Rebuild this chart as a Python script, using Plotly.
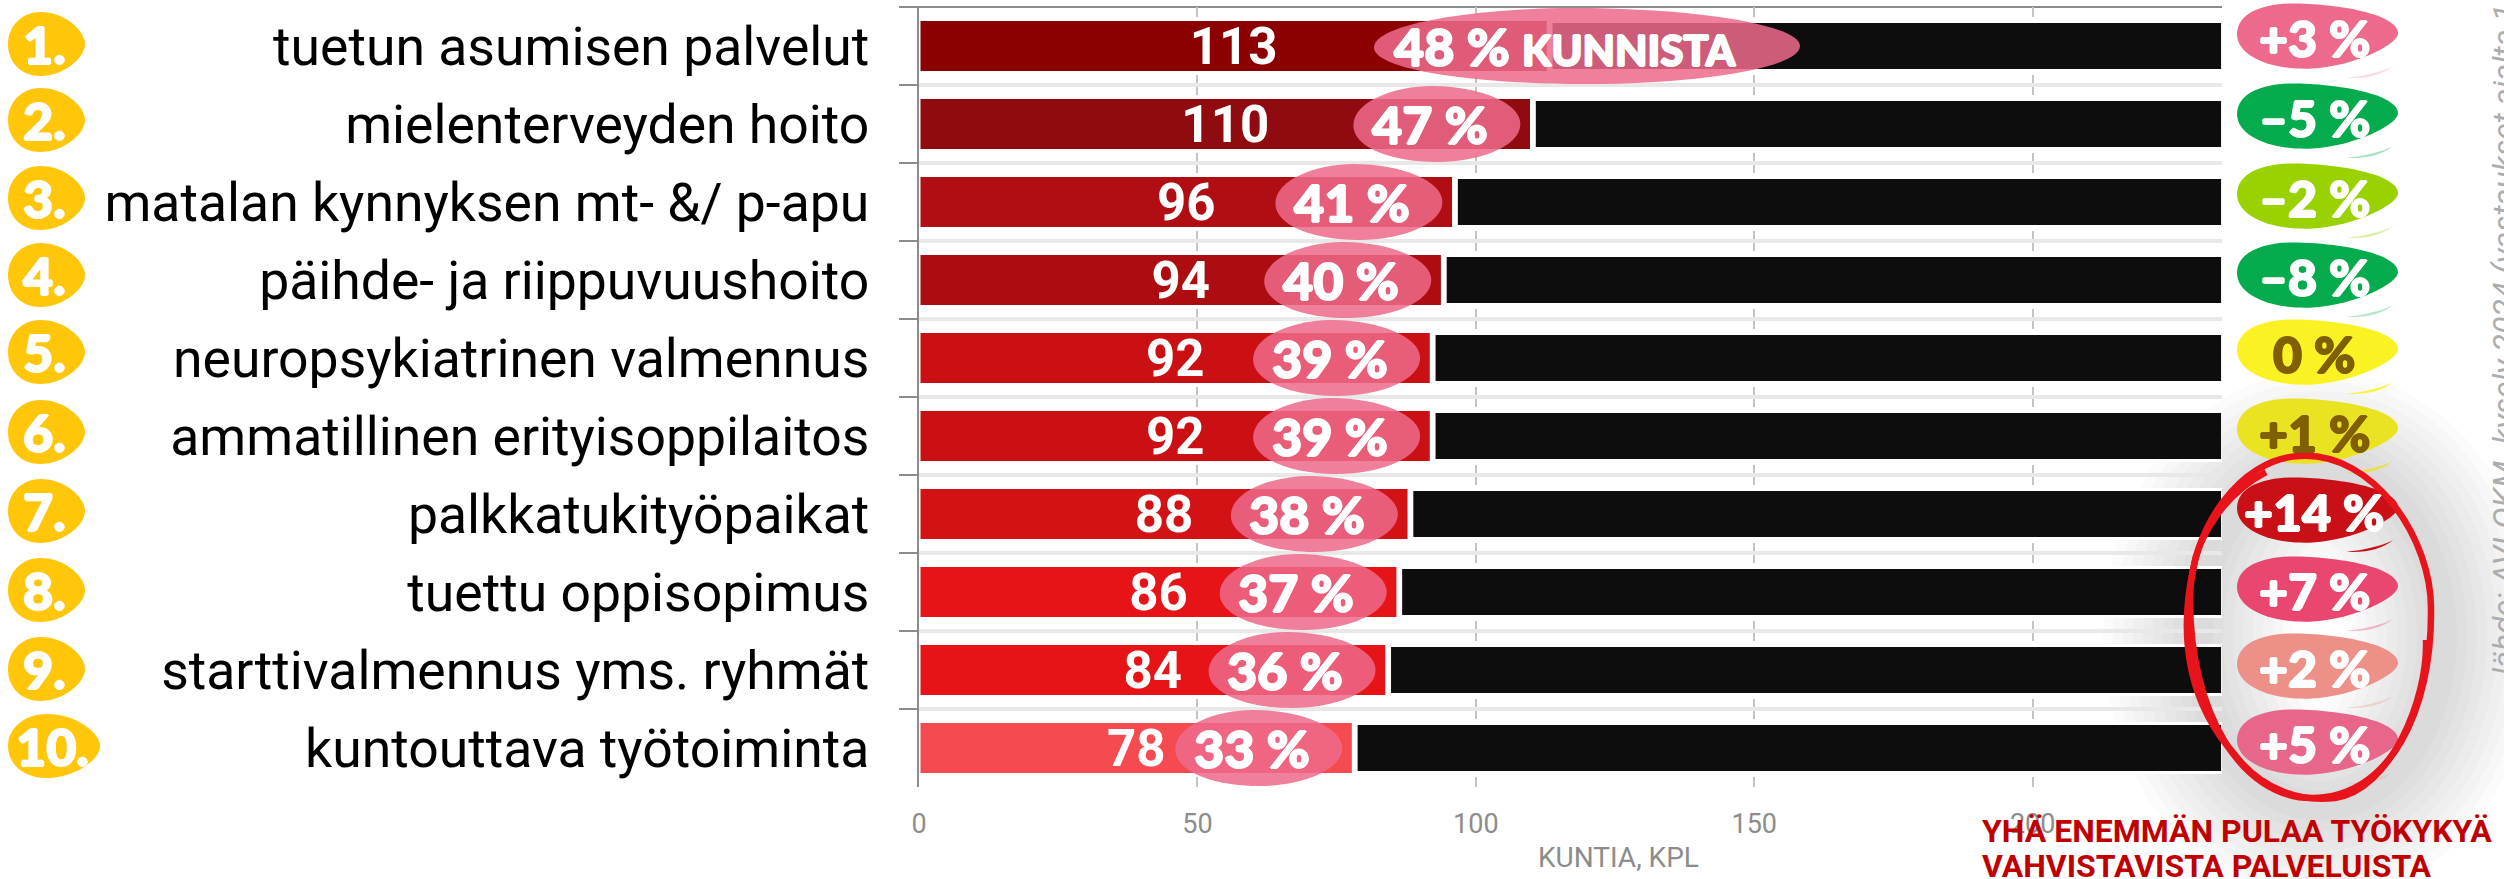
import plotly.graph_objects as go

categories = ["tuetun asumisen palvelut", "mielenterveyden hoito", "matalan kynnyksen mt- &/ p-apu",
              "päihde- ja riippuvuushoito", "neuropsykiatrinen valmennus", "ammatillinen erityisoppilaitos",
              "palkkatukityöpaikat", "tuettu oppisopimus", "starttivalmennus yms. ryhmät", "kuntouttava työtoiminta"]
ranks = ["1.", "2.", "3.", "4.", "5.", "6.", "7.", "8.", "9.", "10."]
municipalities = [113, 110, 96, 94, 92, 92, 88, 86, 84, 78]
total_municipalities = 233.6
shares = ["48 %", "47 %", "41 %", "40 %", "39 %", "39 %", "38 %", "37 %", "36 %", "33 %"]
changes = ["+3 %", "–5 %", "–2 %", "–8 %", "0 %", "+1 %", "+14 %", "+7 %", "+2 %", "+5 %"]
x_ticks = [0, 50, 100, 150, 200]

bar_colors = ["#8B0000", "#8F0B0F", "#B00E12", "#AD0D11", "#CB1014", "#CB1014", "#D21215", "#E61317", "#E61317", "#F54A4F"]
change_colors = ["#EE6A8C", "#05AB4D", "#99D200", "#05AB4D", "#FBF224", "#E9E321", "#C81016", "#E94670", "#EC9088", "#E7668A"]
change_text = ["white"] * 4 + ["#7F5F00", "#7F5F00"] + ["white"] * 4
rest = [total_municipalities - v for v in municipalities]
gap = 0.5

W, H = 2504, 879
L, R, T, B = 919, 2222, 7, 787
PW, PH = R - L, B - T
def px(v): return (v - L) / PW
def py(v): return (B - v) / PH
FONT = "Roboto"
ROUND = "Lato"
def heavy(size, color):
    s = f"1px 0 0 {color},-1px 0 0 {color},0 1px 0 {color},0 -1px 0 {color}"
    return dict(family=ROUND, size=size, color=color, weight=900, shadow=s)

fig = go.Figure()
fig.add_bar(y=categories, x=municipalities, orientation="h", width=0.68,
            marker=dict(color=bar_colors, line=dict(color="white", width=3)),
            text=[str(v) for v in municipalities], textposition="inside", insidetextanchor="middle",
            constraintext="none", textangle=0,
            textfont=dict(family=FONT, size=51, color="white", weight=700), showlegend=False)
fig.add_bar(y=categories, x=rest, base=[v + gap for v in municipalities], orientation="h", width=0.63,
            marker=dict(color="#0D0D0D", line=dict(color="white", width=3)), showlegend=False)

def bez(pts, w, h, ox=0.0, oy=0.0):
    """Normalised blob (y down, 0..1) to an SVG path in pixels around the anchor."""
    def f(p):
        return f"{(p[0] - ox) * w:.1f},{-(p[1] - oy) * h:.1f}"
    s = "M " + f(pts[0])
    for i in range(1, len(pts), 3):
        s += " C " + " ".join(f(p) for p in pts[i:i + 3])
    return s + " Z"

EGG = [(0, .5), (0, .2), (.2, 0), (.42, 0), (.75, 0), (1, .3), (1, .5), (1, .72), (.72, 1), (.42, 1), (.18, 1), (0, .8), (0, .5)]
PINK = [(0, .52), (0, .2), (.25, 0), (.47, 0), (.75, 0), (1, .22), (1, .5), (1, .8), (.75, 1), (.5, 1), (.22, 1), (0, .8), (0, .52)]
DROP = [(0, .47), (0, .13), (.18, 0), (.34, 0), (.62, 0), (1, .16), (1, .46), (1, .62), (.75, .95), (.47, 1), (.2, 1.03), (0, .8), (0, .47)]
SLIVER = [(.68, 1.02), (.78, 1.0), (.9, .93), (.97, .84), (.9, .98), (.8, 1.04), (.68, 1.02)]

shapes = []
# soft drop shadow of the hand-drawn ring
for w_ in (190, 170, 150, 130, 110, 90, 70, 50, 30):
    shapes.append(dict(type="circle", xref="paper", yref="paper", layer="below",
                       x0=px(2198), x1=px(2442), y0=py(466), y1=py(806),
                       line=dict(color="rgba(0,0,0,0.016)", width=w_), fillcolor="rgba(0,0,0,0)"))

annos = []
rank_nudge = [-2, -4, -4, -5, -6, -4, -3, -2, -1, -2]
change_center = [36, 116, 196, 275, 352, 431, 510, 589, 666, 742]
sliver_strength = [.25, .35, .35, .3, .9, .9, 1, .35, .3, .15]
def label(**kw):
    kw.setdefault("xanchor", "center")
    kw.setdefault("yanchor", "middle")
    kw.setdefault("showarrow", False)
    annos.append(kw)

for i in range(10):
    # rank badge
    w_ = 92 if i == 9 else 77
    yc = 46 + 78 * i + rank_nudge[i]
    shapes.append(dict(type="path", xref="paper", yref="paper", xsizemode="pixel", ysizemode="pixel",
                       xanchor=px(8), yanchor=py(yc), layer="above",
                       path=bez(EGG, w_, 64, 0, .5), fillcolor="#FFC60A", line=dict(width=0)))
    label(xref="paper", yref="paper", x=px(8 + w_ * .48), y=py(yc), text=ranks[i], font=heavy(52, "white"))
    # share blob
    w_ = 426 if i == 0 else 167
    xa = ((1587 - L) / PW * 234) if i == 0 else municipalities[i] - 17
    shapes.append(dict(type="path", xref="x", yref="y", xsizemode="pixel", ysizemode="pixel",
                       xanchor=xa, yanchor=i, layer="above",
                       path=bez(PINK, w_, 76, .5, .5), fillcolor="rgba(238,106,139,0.86)", line=dict(width=0)))
    if i == 0:
        label(xref="paper", yref="y", x=px(1392), y=0, xanchor="left",
              text=f"{shares[0]} <span style='font-size:42px'>KUNNISTA</span>", font=heavy(52, "white"))
    else:
        label(xref="x", yref="y", x=xa, xshift=-7, y=i, text=shares[i], font=heavy(52, "white"))
    # change badge
    yc = change_center[i]
    shapes.append(dict(type="path", xref="paper", yref="paper", xsizemode="pixel", ysizemode="pixel",
                       xanchor=px(2237), yanchor=py(yc), layer="above",
                       path=bez(DROP, 161, 65, 0, .5), fillcolor=change_colors[i], line=dict(width=0)))
    shapes.append(dict(type="path", xref="paper", yref="paper", xsizemode="pixel", ysizemode="pixel",
                       xanchor=px(2237), yanchor=py(yc + 8), layer="above", opacity=sliver_strength[i],
                       path=bez(SLIVER, 161, 65, 0, .5), fillcolor=change_colors[i], line=dict(width=0)))
    label(xref="paper", yref="paper", x=px(2314), y=py(yc + 2), text=changes[i], font=heavy(50, change_text[i]))

# hand-drawn red ring
RING_A = "M 2300,456 C 2375,452 2432,540 2431,610 C 2432,710 2390,798 2312,798 C 2240,798 2190,710 2190,600 C 2190,530 2240,458 2300,456"
RING_B = "M 2266,472 C 2222,495 2197,540 2193,570 C 2178,640 2190,705 2235,755 C 2262,790 2300,802 2335,798 C 2390,790 2428,700 2426,640"
def to_paper_path(p):
    out = []
    for tok in p.split():
        if "," in tok:
            a, b = tok.split(",")
            out.append(f"{px(float(a)):.5f},{py(float(b)):.5f}")
        else:
            out.append(tok)
    return " ".join(out)
for p in (RING_A, RING_B):
    shapes.append(dict(type="path", xref="paper", yref="paper", layer="above", path=to_paper_path(p),
                       line=dict(color="#E8141B", width=6.5), fillcolor="rgba(0,0,0,0)"))

# top rule
shapes.append(dict(type="line", xref="paper", yref="paper", x0=-0.014, x1=1, y0=1, y1=1, layer="between",
                   line=dict(color="#8C8C8C", width=2)))

label(xref="paper", yref="paper", x=px(1618), y=py(858), text="KUNTIA, KPL",
      font=dict(family=FONT, size=28, color="#8C8C8C"))
label(xref="paper", yref="paper", x=px(1980), y=py(831), xanchor="left", text="<b>YHÄ ENEMMÄN PULAA TYÖKYKYÄ</b>",
      font=dict(family=FONT, size=32, color="#C00000"))
label(xref="paper", yref="paper", x=px(1980), y=py(866), xanchor="left", text="<b>VAHVISTAVISTA PALVELUISTA</b>",
      font=dict(family=FONT, size=32, color="#C00000"))
label(xref="paper", yref="paper", x=px(2503), y=py(678), yanchor="bottom", textangle=-90,
      text="<i>lähde: AVI-OKM -kysely 2024 (vastaukset ajalta 1</i>",
      font=dict(family=FONT, size=32, color="#ADADAD", weight=400))

fig.update_layout(
    width=W, height=H, autosize=False, barmode="overlay", plot_bgcolor="white", paper_bgcolor="white",
    margin=dict(l=L, r=W - R, t=T, b=H - B, pad=0), showlegend=False,
    shapes=shapes, annotations=annos,
    xaxis=dict(range=[0, 234], tickmode="array", tickvals=x_ticks, ticks="", showline=False, zeroline=False,
               ticklabelstandoff=18,
               tickfont=dict(family=FONT, size=27, color="#8C8C8C"), showgrid=True, gridcolor="#C4C4C4",
               griddash="10px,58px,10px,0px", gridwidth=2),
    yaxis=dict(type="category", categoryorder="array", categoryarray=categories, autorange=False, range=[9.5, -0.5],
               tickson="boundaries", ticks="outside", ticklen=18, tickwidth=2, tickcolor="#8C8C8C",
               showline=True, linecolor="#8C8C8C", linewidth=2, zeroline=False,
               showgrid=True, gridcolor="#E8E8E8", gridwidth=4,
               tickfont=dict(family=FONT, size=53.5, color="black"), ticklabelstandoff=37),
)
fig.write_html("out.html", config=dict(displayModeBar=False),
               post_script="document.body.style.margin='0';document.body.style.overflow='hidden';")
